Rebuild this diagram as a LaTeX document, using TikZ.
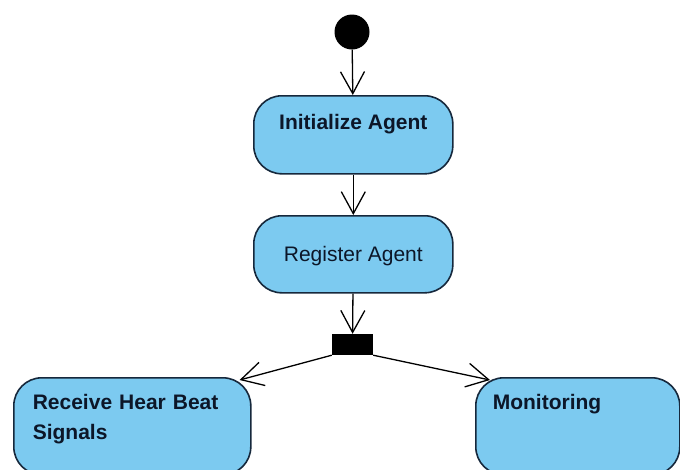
\documentclass[tikz,border=0pt]{standalone}
\usepackage{fontspec}
\setmainfont{Liberation Sans}
\usetikzlibrary{arrows.meta}

\definecolor{actfill}{RGB}{124,202,240}
\definecolor{actline}{RGB}{22,40,60}
\definecolor{acttext}{RGB}{12,22,40}

\begin{document}
\begin{tikzpicture}[x=1pt, y=-1pt]
\tikzset{activity/.style =
        {
            rectangle,
            rounded corners=28pt,
            draw=actline,
            line width=1.6pt,
            fill=actfill,
            inner sep=0pt,
            anchor=north west,
            text=acttext,
            font=\fontsize{21}{30}\selectfont
        }
}

\tikzset{wide/.style =
        {
            activity,
            align=left,
            text height=32pt,
            text depth=65pt,
            font=\fontsize{21}{30}\selectfont\bfseries
        }
}

\tikzset{initial/.style =
        {
            circle,
            fill=black,
            minimum size=35pt,
            inner sep=0pt
        }
}

\tikzset{forkbar/.style =
        {
            rectangle,
            fill=black,
            minimum width=41pt,
            minimum height=21pt,
            inner sep=0pt
        }
}

\tikzset{flow/.style = {
            line width=1.3pt,
            -{Straight Barb[length=22pt, width=24pt]}
        }
}

\fill[white] (0,0) rectangle (680,469);
\useasboundingbox (0,0) rectangle (680,469);

\node[initial] (start) at (352,32) {};

\node[activity, minimum width=199pt, text height=34pt, text depth=44pt,
    font=\fontsize{21}{30}\selectfont\bfseries] (init) at (253,95) {Initialize Agent};
\node[activity, minimum width=199pt, text height=46pt, text depth=31pt] (reg) at (253,215) {Register Agent};

\node[forkbar] (fork) at (352.5,344.5) {};

\node[wide, text width=199pt, inner xsep=19pt] (recv) at (13,377) {Receive Hear Beat\\Signals};
\node[wide, text width=170pt, inner xsep=17pt] (mon) at (475,377) {Monitoring};

\foreach \from/\to in {start/init, init/reg, reg/fork}
\draw [flow] (\from) -- (\to);

\draw [flow] (fork.south west) -- ([xshift=-12pt, yshift=-3pt]recv.north east);
\draw [flow] (fork.south east) -- ([xshift=15pt, yshift=-3pt]mon.north west);

\end{tikzpicture}
\end{document}
